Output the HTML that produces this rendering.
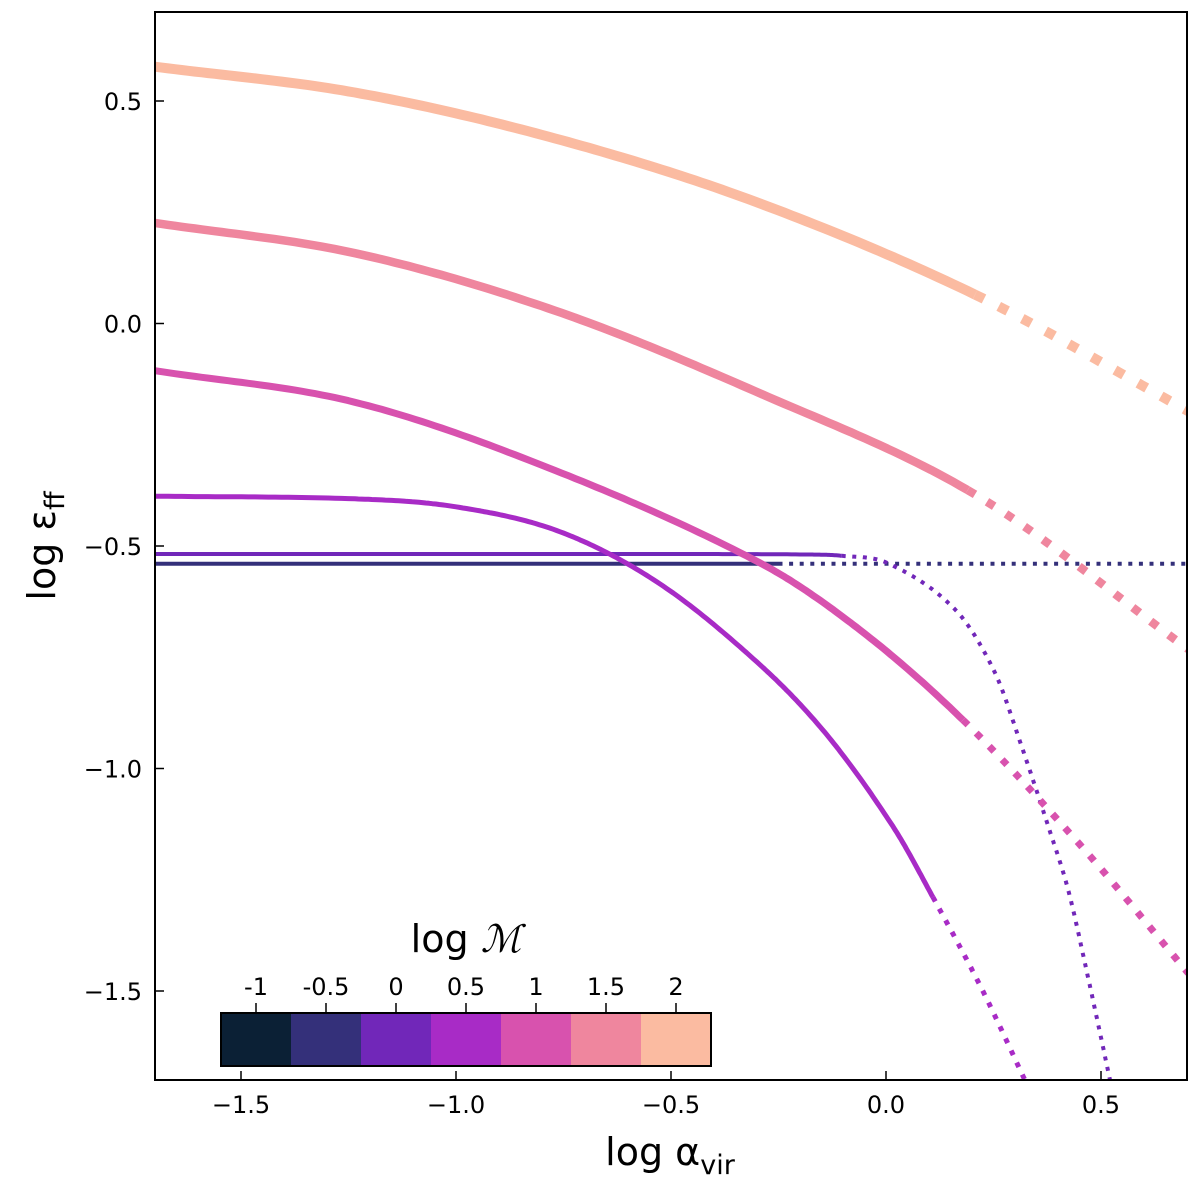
<!DOCTYPE html>
<html><head><meta charset="utf-8"><style>
html,body{margin:0;padding:0;background:#fff;}
svg{display:block;font-family:"DejaVu Sans","Liberation Sans",sans-serif;}
</style></head><body>
<svg id="chart" width="1200" height="1184" viewBox="0 0 1200 1184">
<g id="plot"></g>
<rect x="155" y="12" width="1032" height="1068" fill="none" stroke="#000" stroke-width="2"/>
<g id="axes"></g>
<text x="670" y="1165" font-size="38" text-anchor="middle">log α<tspan font-size="27" dy="9">vir</tspan></text>
<text transform="translate(55,546) rotate(-90)" font-size="38" text-anchor="middle">log ε<tspan font-size="27" dy="9">ff</tspan></text>
<g id="cbar"></g>
<text x="466" y="952" font-size="38" text-anchor="middle">log <tspan font-family="Liberation Serif,serif" font-style="italic">ℳ</tspan></text>
</svg>
<script>
const xTicks=[-1.5,-1.0,-0.5,0.0,0.5];
const yTicks=[0.5,0.0,-0.5,-1.0,-1.5];
const cbarLabels=["-1","-0.5","0","0.5","1","1.5","2"];
const cbarColors=["#0b2035","#34307a","#7127b9","#a82bc6","#d852ae","#ef869e","#fbbba1"];
const m2x=[-1.7,-1.235,-0.77,-0.305,0.207,0.703];
const m2y=[0.577,0.519,0.416,0.274,0.065,-0.197];
const m15x=[-1.7,-1.235,-0.77,-0.305,0.207,0.703];
const m15y=[0.226,0.158,0.029,-0.152,-0.384,-0.732];
const m1x=[-1.7,-1.235,-0.77,-0.293,-0.06,0.179,0.45,0.703];
const m1y=[-0.106,-0.177,-0.33,-0.538,-0.689,-0.891,-1.17,-1.46];
const m05x=[-1.7,-1.235,-1.0,-0.758,-0.526,-0.293,-0.137,0.016,0.109,0.22,0.323];
const m05y=[-0.388,-0.394,-0.412,-0.468,-0.585,-0.767,-0.925,-1.13,-1.289,-1.49,-1.7];
const m0x=[-1.7,-0.5,-0.2,-0.103,0.005,0.16,0.253,0.316,0.378,0.424,0.47,0.521];
const m0y=[-0.518,-0.518,-0.519,-0.522,-0.539,-0.642,-0.784,-0.952,-1.132,-1.274,-1.47,-1.7];
const mm05x=[-1.7,-0.25,0.7];
const mm05y=[-0.54,-0.54,-0.54];
const breaks=[0.207,0.205,0.179,0.109,-0.103,-0.25];
const NS="http://www.w3.org/2000/svg";
const X=v=>155+(v+1.7)*430, Y=v=>12+(0.7-v)*445;
const plot=document.getElementById('plot'), axes=document.getElementById('axes'), cb=document.getElementById('cbar');
function mk(tag,at,parent){const e=document.createElementNS(NS,tag);for(const k in at)e.setAttribute(k,at[k]);parent.appendChild(e);return e;}
function smooth(xs,ys){
 const n=xs.length,m=[];
 for(let i=0;i<n;i++){
  if(i==0)m.push((ys[1]-ys[0])/(xs[1]-xs[0]));
  else if(i==n-1)m.push((ys[n-1]-ys[n-2])/(xs[n-1]-xs[n-2]));
  else m.push((ys[i+1]-ys[i-1])/(xs[i+1]-xs[i-1]));
 }
 const out=[];
 for(let i=0;i<n-1;i++){
  const h=xs[i+1]-xs[i];
  for(let k=0;k<30;k++){const t=k/30,t2=t*t,t3=t2*t;
   const y=(2*t3-3*t2+1)*ys[i]+(t3-2*t2+t)*h*m[i]+(-2*t3+3*t2)*ys[i+1]+(t3-t2)*h*m[i+1];
   out.push([xs[i]+t*h,y]);}
 }
 out.push([xs[n-1],ys[n-1]]);return out;
}
const series=[[mm05x,mm05y,1,4],[m0x,m0y,2,4],[m05x,m05y,3,5],[m1x,m1y,4,7],[m15x,m15y,5,8.5],[m2x,m2y,6,10]];
const bk=[breaks[5],breaks[4],breaks[3],breaks[2],breaks[1],breaks[0]];
const clip=mk('clipPath',{id:'pc'},plot);mk('rect',{x:155,y:12,width:1032,height:1068},clip);
plot.setAttribute('clip-path','url(#pc)');
series.forEach((s,i)=>{
 const [xs,ys,ci,lw]=s,b=bk[i];
 const sm=smooth(xs,ys);
 const sol=sm.filter(p=>p[0]<=b), dot=sm.filter(p=>p[0]>=b);
 if(sol.length&&dot.length) dot.unshift(sol[sol.length-1]);
 const pts=a=>a.map(p=>X(p[0]).toFixed(1)+','+Y(p[1]).toFixed(1)).join(' ');
 const l1=mk('polyline',{points:pts(sol),fill:'none',stroke:cbarColors[ci],'stroke-width':lw,'stroke-linejoin':'round'},plot);
 
 
 const l2=mk('polyline',{points:pts(dot),fill:'none',stroke:cbarColors[ci],'stroke-width':lw,'stroke-dasharray':lw+' '+(lw*1.65)},plot);
 
 
});
xTicks.forEach(v=>{
 const t=mk('line',{x1:X(v),x2:X(v),y1:1080,y2:1071,stroke:'#000','stroke-width':1.5},axes);
 
 
 const l=mk('text',{x:X(v),y:1113,'font-size':24,'text-anchor':'middle'},axes);l.textContent=(v<0?'−':'')+Math.abs(v).toFixed(1);
 
 
});
yTicks.forEach(v=>{
 const t=mk('line',{x1:155,x2:164,y1:Y(v),y2:Y(v),stroke:'#000','stroke-width':1.5},axes);
 
 
 const l=mk('text',{x:142,y:Y(v)+9,'font-size':24,'text-anchor':'end'},axes);l.textContent=(v<0?'−':'')+Math.abs(v).toFixed(1);
 
 
});
const cx0=221,cw=70,cy0=1013,ch=53;
mk('rect',{x:cx0-1,y:cy0-1,width:cw*7+2,height:ch+2,fill:'#fff'},cb);
cbarColors.forEach((c,i)=>{
 const r=mk('rect',{x:cx0+i*cw,y:cy0,width:cw+0.5,height:ch,fill:c},cb);
 
 
 const t=mk('line',{x1:cx0+i*cw+35,x2:cx0+i*cw+35,y1:cy0,y2:cy0-10,stroke:'#000','stroke-width':1.5},cb);
 
 
 const l=mk('text',{x:cx0+i*cw+35,y:cy0-18,'font-size':24,'text-anchor':'middle'},cb);l.textContent=cbarLabels[i];
 
 
});
mk('rect',{x:cx0,y:cy0,width:cw*7,height:ch,fill:'none',stroke:'#000','stroke-width':2},cb);
</script>
</body></html>
